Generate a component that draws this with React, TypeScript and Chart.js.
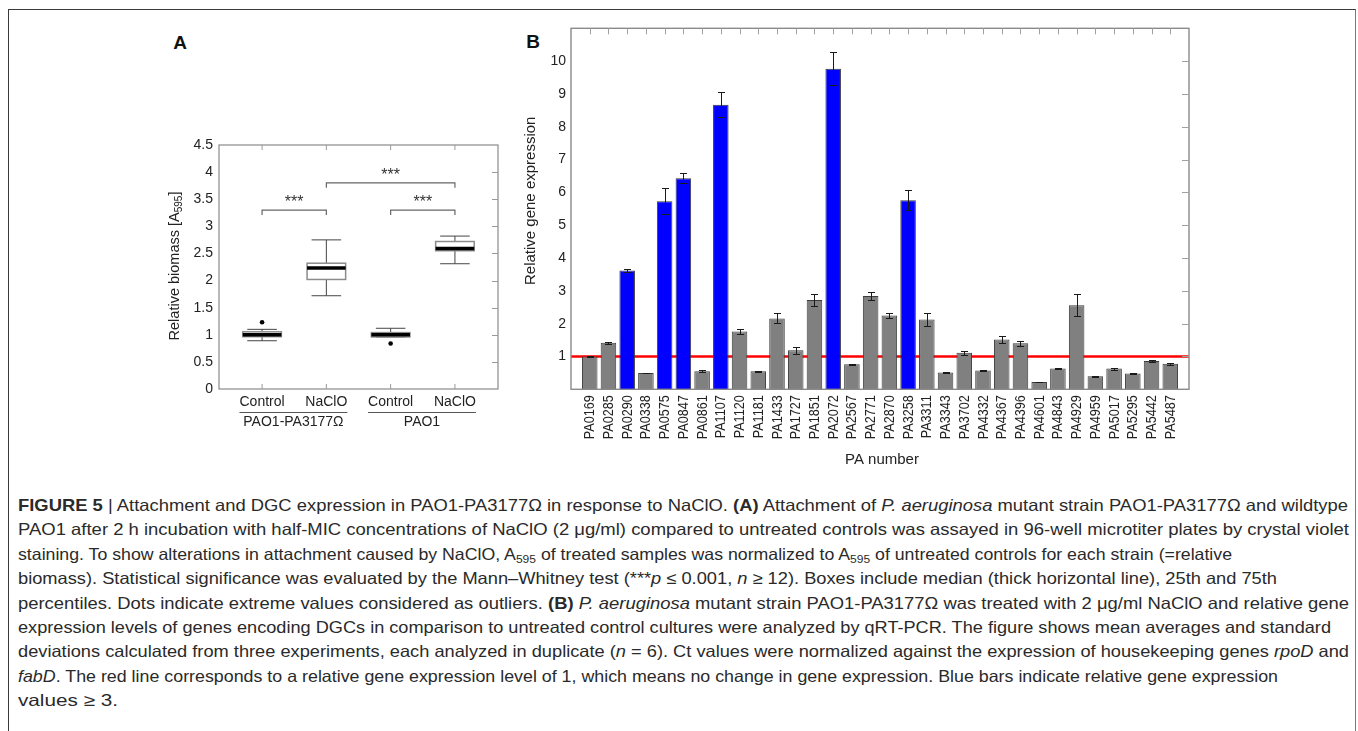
import React, { useEffect, useLayoutEffect, useRef } from "react";
import { Chart, registerables } from "chart.js";
Chart.register(...registerables);

const FONT = "'Liberation Sans', Arial, Helvetica, sans-serif";
const TXT = "#222222";

// ---------- Panel A data ----------
const categoriesA = ["Control", "NaClO", "Control", "NaClO"];
const groupsA = ["PAO1-PA3177Ω", "PAO1"];
const groupStartA = [1, 3];
const groupEndA = [2, 4];
const whiskerLowA = [0.89, 1.72, 0.96, 2.31];
const q1A = [0.965, 2.02, 0.96, 2.55];
const medianA = [1.0, 2.23, 1.0, 2.59];
const q3A = [1.055, 2.32, 1.04, 2.72];
const whiskerHighA = [1.1, 2.75, 1.12, 2.82];
const outlierXA = [1, 3];
const outlierYA = [1.23, 0.84];
const bracketFromA = [1, 2, 3];
const bracketToA = [2, 4, 4];
const bracketYA = [3.3, 3.8, 3.3];
const bracketLabelA = ["***", "***", "***"];

// ---------- Panel B data ----------
const genesB = ["PA0169", "PA0285", "PA0290", "PA0338", "PA0575", "PA0847", "PA0861", "PA1107", "PA1120", "PA1181", "PA1433", "PA1727", "PA1851", "PA2072", "PA2567", "PA2771", "PA2870", "PA3258", "PA3311", "PA3343", "PA3702", "PA4332", "PA4367", "PA4396", "PA4601", "PA4843", "PA4929", "PA4959", "PA5017", "PA5295", "PA5442", "PA5487"];
const expressionB = [1.0, 1.42, 3.62, 0.5, 5.73, 6.43, 0.55, 8.67, 1.76, 0.55, 2.16, 1.19, 2.72, 9.77, 0.76, 2.84, 2.25, 5.76, 2.13, 0.51, 1.11, 0.57, 1.52, 1.4, 0.22, 0.63, 2.56, 0.4, 0.63, 0.48, 0.86, 0.78];
const sdB = [0.02, 0.03, 0.06, 0.01, 0.4, 0.15, 0.03, 0.38, 0.07, 0.02, 0.15, 0.1, 0.17, 0.51, 0.02, 0.12, 0.09, 0.31, 0.21, 0.01, 0.07, 0.01, 0.1, 0.07, 0.01, 0.01, 0.34, 0.01, 0.03, 0.01, 0.02, 0.03];
const thresholdB = 3;
const referenceLevelB = 1;

const boxPluginA = {
  id: "boxA",
  beforeDatasetsDraw(chart: any) {
    const { ctx, chartArea: a, scales } = chart;
    const x = scales.x, y = scales.y;
    ctx.save();
    ctx.strokeStyle = "#8a8a8a";
    ctx.lineWidth = 1.2;
    ctx.strokeRect(a.left, a.top, a.right - a.left, a.bottom - a.top);
    ctx.lineWidth = 1;
    ctx.strokeStyle = "#9a9a9a";
    ctx.beginPath();
    for (let i = 0; i < categoriesA.length; i++) {
      const px = x.getPixelForValue(i + 1);
      ctx.moveTo(px, a.top); ctx.lineTo(px, a.top + 5);
      ctx.moveTo(px, a.bottom); ctx.lineTo(px, a.bottom - 5);
    }
    for (let v = 0.5; v < 4.5; v += 0.5) {
      const py = Math.round(y.getPixelForValue(v)) + 0.5;
      ctx.moveTo(a.right, py); ctx.lineTo(a.right - 6, py);
    }
    ctx.stroke();

    const half = x.getPixelForValue(1.3) - x.getPixelForValue(1);
    const cap = x.getPixelForValue(1.23) - x.getPixelForValue(1);
    for (let i = 0; i < categoriesA.length; i++) {
      const cx = x.getPixelForValue(i + 1);
      const yl = y.getPixelForValue(whiskerLowA[i]);
      const yh = y.getPixelForValue(whiskerHighA[i]);
      const y1 = y.getPixelForValue(q1A[i]);
      const y3 = y.getPixelForValue(q3A[i]);
      const ym = y.getPixelForValue(medianA[i]);
      ctx.strokeStyle = "#444";
      ctx.lineWidth = 1;
      ctx.beginPath();
      ctx.moveTo(cx, y3); ctx.lineTo(cx, yh);
      ctx.moveTo(cx, y1); ctx.lineTo(cx, yl);
      ctx.moveTo(cx - cap, yh); ctx.lineTo(cx + cap, yh);
      ctx.moveTo(cx - cap, yl); ctx.lineTo(cx + cap, yl);
      ctx.stroke();
      ctx.fillStyle = "#ffffff";
      ctx.fillRect(cx - half, y3, 2 * half, y1 - y3);
      ctx.strokeStyle = "#8c8c8c";
      ctx.lineWidth = 1.5;
      ctx.strokeRect(cx - half, y3, 2 * half, y1 - y3);
      ctx.strokeStyle = "#000";
      ctx.lineWidth = 3.5;
      ctx.beginPath();
      ctx.moveTo(cx - half, ym); ctx.lineTo(cx + half, ym);
      ctx.stroke();
    }

    ctx.strokeStyle = "#666";
    ctx.lineWidth = 1.2;
    ctx.fillStyle = "#333";
    ctx.font = `16px ${FONT}`;
    ctx.textAlign = "center";
    ctx.textBaseline = "middle";
    for (let i = 0; i < bracketFromA.length; i++) {
      const x1 = x.getPixelForValue(bracketFromA[i]);
      const x2 = x.getPixelForValue(bracketToA[i]);
      const by = y.getPixelForValue(bracketYA[i]);
      const leg = y.getPixelForValue(bracketYA[i] - 0.09);
      ctx.beginPath();
      ctx.moveTo(x1, leg); ctx.lineTo(x1, by); ctx.lineTo(x2, by); ctx.lineTo(x2, leg);
      ctx.stroke();
      ctx.fillText(bracketLabelA[i], (x1 + x2) / 2, y.getPixelForValue(bracketYA[i] + 0.2) + 3);
    }
    ctx.restore();
  },
  afterDraw(chart: any) {
    const { ctx, chartArea: a, scales } = chart;
    const x = scales.x;
    ctx.save();
    ctx.fillStyle = TXT;
    ctx.font = `14px ${FONT}`;
    ctx.textAlign = "center";
    ctx.textBaseline = "middle";
    const lefts: number[] = [], rights: number[] = [];
    for (let i = 0; i < categoriesA.length; i++) {
      const cx = x.getPixelForValue(i + 1);
      const w = ctx.measureText(categoriesA[i]).width;
      lefts.push(cx - w / 2); rights.push(cx + w / 2);
      ctx.fillText(categoriesA[i], cx, a.bottom + 13);
    }
    for (let g = 0; g < groupsA.length; g++) {
      const l = lefts[groupStartA[g] - 1], r = rights[groupEndA[g] - 1];
      ctx.strokeStyle = "#555";
      ctx.lineWidth = 1;
      ctx.beginPath();
      ctx.moveTo(l, a.bottom + 23.5); ctx.lineTo(r, a.bottom + 23.5);
      ctx.stroke();
      ctx.fillText(groupsA[g], (l + r) / 2, a.bottom + 33);
    }
    const big = `14.5px ${FONT}`, small = `10px ${FONT}`;
    const p1 = "Relative biomass [A", p2 = "595", p3 = "]";
    ctx.font = big; const w1 = ctx.measureText(p1).width; const w3 = ctx.measureText(p3).width;
    ctx.font = small; const w2 = ctx.measureText(p2).width;
    const total = w1 + w2 + w3;
    ctx.translate(35, (a.top + a.bottom) / 2 - 1);
    ctx.rotate(-Math.PI / 2);
    ctx.textAlign = "left";
    ctx.textBaseline = "middle";
    let sx = -total / 2;
    ctx.font = big; ctx.fillText(p1, sx, 0); sx += w1;
    ctx.font = small; ctx.fillText(p2, sx, 4); sx += w2;
    ctx.font = big; ctx.fillText(p3, sx, 0);
    ctx.restore();
  },
};

const barPluginB = {
  id: "barB",
  beforeDatasetsDraw(chart: any) {
    const { ctx, chartArea: a, scales } = chart;
    const y = scales.y;
    ctx.save();
    ctx.strokeStyle = "#ff0000";
    ctx.lineWidth = 2.5;
    const ry = y.getPixelForValue(referenceLevelB);
    ctx.beginPath();
    ctx.moveTo(a.left, ry); ctx.lineTo(a.right, ry);
    ctx.stroke();
    ctx.restore();
  },
  afterDatasetsDraw(chart: any) {
    const { ctx, chartArea: a, scales } = chart;
    const x = scales.x, y = scales.y;
    ctx.save();
    ctx.strokeStyle = "#1a1a1a";
    ctx.lineWidth = 1;
    ctx.beginPath();
    for (let i = 0; i < genesB.length; i++) {
      const cx = Math.round(x.getPixelForValue(i + 1)) + 0.5;
      const yt = Math.round(y.getPixelForValue(expressionB[i] + sdB[i])) + 0.5;
      const yb = Math.round(y.getPixelForValue(expressionB[i] - sdB[i])) + 0.5;
      ctx.moveTo(cx, yt); ctx.lineTo(cx, yb);
      ctx.moveTo(cx - 3.5, yt); ctx.lineTo(cx + 3.5, yt);
      ctx.moveTo(cx - 3.5, yb); ctx.lineTo(cx + 3.5, yb);
    }
    ctx.stroke();
    ctx.strokeStyle = "#8a8a8a";
    ctx.lineWidth = 1.4;
    ctx.strokeRect(a.left, a.top, a.right - a.left, a.bottom - a.top);
    ctx.strokeStyle = "#a0a0a0";
    ctx.lineWidth = 1;
    ctx.beginPath();
    for (let i = 0; i < genesB.length; i++) {
      const cx = Math.round(x.getPixelForValue(i + 1)) + 0.5;
      ctx.moveTo(cx, a.top); ctx.lineTo(cx, a.top + 6);
    }
    for (let v = 1; v <= 10; v++) {
      const py = Math.round(y.getPixelForValue(v)) + 0.5;
      ctx.moveTo(a.right, py); ctx.lineTo(a.right - 7, py);
    }
    ctx.stroke();
    ctx.restore();
  },
  afterDraw(chart: any) {
    const { ctx, chartArea: a, scales } = chart;
    const x = scales.x;
    ctx.save();
    ctx.fillStyle = TXT;
    // rotated, slightly condensed gene labels
    ctx.font = `14.5px ${FONT}`;
    ctx.textAlign = "right";
    ctx.textBaseline = "middle";
    for (let i = 0; i < genesB.length; i++) {
      const cx = x.getPixelForValue(i + 1);
      ctx.save();
      ctx.translate(cx + 0.5, a.bottom + 6);
      ctx.rotate(-Math.PI / 2);
      ctx.scale(0.87, 1);
      ctx.fillText(genesB[i], 0, 0);
      ctx.restore();
    }
    ctx.font = `15px ${FONT}`;
    ctx.textAlign = "center";
    ctx.fillText("PA number", (a.left + a.right) / 2 + 2, a.bottom + 71);
    ctx.translate(21, (a.top + a.bottom) / 2 - 8);
    ctx.rotate(-Math.PI / 2);
    ctx.fillText("Relative gene expression", 0, 0);
    ctx.restore();
  },
};

function PanelA() {
  const ref = useRef<HTMLCanvasElement>(null);
  useEffect(() => {
    const chart = new Chart(ref.current as HTMLCanvasElement, {
      type: "scatter",
      data: {
        datasets: [
          {
            data: outlierXA.map((v, i) => ({ x: v, y: outlierYA[i] })),
            pointRadius: 2.3,
            pointBackgroundColor: "#000",
            pointBorderWidth: 0,
          },
        ],
      },
      options: {
        responsive: false,
        animation: false,
        events: [],
        layout: { padding: { left: 0, top: 125, right: 12, bottom: 51 } },
        plugins: { legend: { display: false }, tooltip: { enabled: false } },
        scales: {
          x: { type: "linear", min: 0.33, max: 4.67, display: false },
          y: {
            type: "linear",
            min: 0,
            max: 4.5,
            ticks: { stepSize: 0.5, padding: 6, color: TXT, font: { family: FONT, size: 14 }, callback: (v: any) => String(v) },
            grid: { display: false, drawTicks: false },
            border: { display: false },
            afterFit: (s: any) => { s.width = 79; },
          },
        },
      } as any,
      plugins: [boxPluginA],
    });
    return () => chart.destroy();
  }, []);
  return <canvas ref={ref} width={370} height={420} style={{ position: "absolute", left: 140, top: 20, width: 370, height: 420 }} />;
}

function PanelB() {
  const ref = useRef<HTMLCanvasElement>(null);
  useEffect(() => {
    const labels = ["", ...genesB, ""];
    const values = [null, ...expressionB, null];
    const colors = values.map((v) => (v !== null && v >= thresholdB ? "#0000ff" : "#808080"));
    const chart = new Chart(ref.current as HTMLCanvasElement, {
      type: "bar",
      data: {
        labels,
        datasets: [
          {
            data: values,
            backgroundColor: colors,
            borderColor: "#3c3c3c",
            borderWidth: 1,
            barPercentage: 0.83,
            categoryPercentage: 1,
          },
        ],
      },
      options: {
        responsive: false,
        animation: false,
        events: [],
        layout: { padding: { left: 0, top: 20.3, right: 21, bottom: 0 } },
        plugins: { legend: { display: false }, tooltip: { enabled: false } },
        scales: {
          x: {
            type: "category",
            offset: false,
            grid: { display: false, drawTicks: false },
            border: { display: false },
            ticks: { display: false, autoSkip: false },
            afterFit: (s: any) => { s.height = 90.7; },
          },
          y: {
            type: "linear",
            min: 0,
            max: 11,
            ticks: {
              stepSize: 1,
              padding: 5,
              color: TXT,
              font: { family: FONT, size: 14 },
              callback: (v: any) => (v === 0 || v === 11 ? "" : String(v)),
            },
            grid: { display: false, drawTicks: false },
            border: { display: false },
            afterFit: (s: any) => { s.width = 61; },
          },
        },
      } as any,
      plugins: [barPluginB],
    });
    return () => chart.destroy();
  }, []);
  return <canvas ref={ref} width={700} height={472} style={{ position: "absolute", left: 510, top: 8, width: 700, height: 472 }} />;
}

const subStyle: React.CSSProperties = { fontSize: "0.68em", verticalAlign: "-0.3em", lineHeight: 0 };
const captionLeft = 18;
const captionLineEnds = [1348, 1349, 1232, 1277, 1349, 1331, 1349, 1278, 118];

function Caption() {
  const ref = useRef<HTMLDivElement>(null);
  useLayoutEffect(() => {
    const fit = () => {
      const el = ref.current;
      if (!el) return;
      Array.from(el.children).forEach((c, i) => {
        const line = c as HTMLElement;
        line.style.transform = "none";
        const w = line.getBoundingClientRect().width;
        if (w > 0) line.style.transform = `scaleX(${(captionLineEnds[i] - captionLeft) / w})`;
      });
    };
    fit();
    (document as any).fonts?.ready?.then(fit);
  }, []);
  const line: React.CSSProperties = { whiteSpace: "nowrap", width: "max-content", height: 24.4, transformOrigin: "0 0" };
  return (
    <div
      ref={ref}
      style={{
        position: "absolute",
        left: captionLeft,
        top: 493,
        fontFamily: FONT,
        fontSize: 16.5,
        lineHeight: "24.4px",
        color: "#2a2a2a",
      }}
    >
      <div style={line}><b>FIGURE 5</b> | Attachment and DGC expression in PAO1-PA3177Ω in response to NaClO. <b>(A)</b> Attachment of <i>P. aeruginosa</i> mutant strain PAO1-PA3177Ω and wildtype</div>
      <div style={line}>PAO1 after 2 h incubation with half-MIC concentrations of NaClO (2 μg/ml) compared to untreated controls was assayed in 96-well microtiter plates by crystal violet</div>
      <div style={line}>staining. To show alterations in attachment caused by NaClO, A<span style={subStyle}>595</span> of treated samples was normalized to A<span style={subStyle}>595</span> of untreated controls for each strain (=relative</div>
      <div style={line}>biomass). Statistical significance was evaluated by the Mann–Whitney test (***<i>p</i> ≤ 0.001, <i>n</i> ≥ 12). Boxes include median (thick horizontal line), 25th and 75th</div>
      <div style={line}>percentiles. Dots indicate extreme values considered as outliers. <b>(B)</b> <i>P. aeruginosa</i> mutant strain PAO1-PA3177Ω was treated with 2 μg/ml NaClO and relative gene</div>
      <div style={line}>expression levels of genes encoding DGCs in comparison to untreated control cultures were analyzed by qRT-PCR. The figure shows mean averages and standard</div>
      <div style={line}>deviations calculated from three experiments, each analyzed in duplicate (<i>n</i> = 6). Ct values were normalized against the expression of housekeeping genes <i>rpoD</i> and</div>
      <div style={line}><i>fabD</i>. The red line corresponds to a relative gene expression level of 1, which means no change in gene expression. Blue bars indicate relative gene expression</div>
      <div style={line}>values ≥ 3.</div>
    </div>
  );
}

export default function App() {
  const panelLabel = (t: string, x: number, y: number) => (
    <div
      style={{
        position: "absolute",
        left: x,
        top: y,
        transform: "translate(-50%, -50%)",
        fontFamily: FONT,
        fontWeight: 700,
        fontSize: 19,
        color: "#111",
        lineHeight: 1,
      }}
    >
      {t}
    </div>
  );
  return (
    <div style={{ position: "absolute", left: 0, top: 0, width: 1358, height: 731, background: "#fff", overflow: "hidden" }}>
      <div style={{ position: "absolute", left: 7.5, top: 8.5, width: 1346, height: 760, borderLeft: "1.5px solid #3a3a3a", borderTop: "1.5px solid #3a3a3a", borderRight: "1.5px solid #7a7a7a" }} />
      {panelLabel("A", 180, 42)}
      {panelLabel("B", 533, 41)}
      <PanelA />
      <PanelB />
      <Caption />
    </div>
  );
}
